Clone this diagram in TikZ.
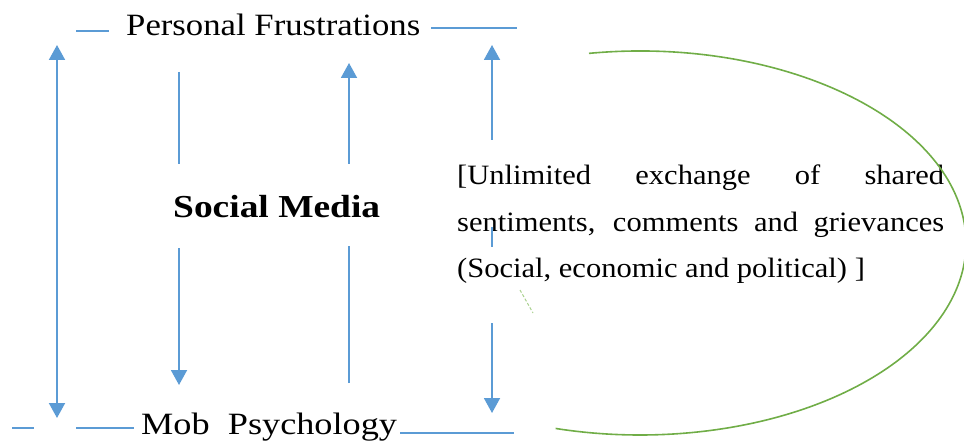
\documentclass[tikz,border=0pt]{standalone}
\usepackage{fontspec}
\setmainfont{Liberation Serif}
\newfontfamily\lblfont[FakeStretch=1.12]{Liberation Serif}
\newfontfamily\mobfont[FakeStretch=1.17]{Liberation Serif}
\newfontfamily\smfont[FakeStretch=1.17]{Liberation Serif}
\newfontfamily\parfont[FakeStretch=1.09]{Liberation Serif}
\usetikzlibrary{arrows.meta}
\definecolor{arrblue}{HTML}{5B9BD5}
\definecolor{ovgreen}{HTML}{70AD47}
\definecolor{faintgreen}{HTML}{A9D18E}
\begin{document}
\begin{tikzpicture}[x=1pt,y=-1pt,
  conn/.style={draw=arrblue, line width=1.9pt},
  arr/.style={conn, -{Triangle[width=16pt,length=15pt]}},
  darr/.style={conn, {Triangle[width=16pt,length=15pt]}-{Triangle[width=16pt,length=15pt]}},
  lab/.style={inner sep=0pt, anchor=base west, text=black, font=\lblfont\fontsize{31}{36}\selectfont},
  moblab/.style={lab, font=\mobfont\fontsize{31}{36}\selectfont},
  smlab/.style={inner sep=0pt, anchor=base west, text=black, font=\smfont\bfseries\fontsize{32}{36}\selectfont},
  parline/.style={inner sep=0pt, anchor=base west, text=black, font=\parfont\fontsize{28}{46}\selectfont},
  oval/.style={draw=ovgreen, line width=1.6pt}
]
\useasboundingbox (0,0) rectangle (964,441);

% texts
\node[lab] (pf) at (126,36) {Personal Frustrations};
\node[moblab] (mob) at (141,434) {Mob\ \ Psychology};
\node[smlab] (sm) at (173,217) {Social Media};
\node[parline] (l1) at (457,185) {\makebox[487pt][s]{[Unlimited exchange of shared}};
\node[parline] (l2) at (457,231) {\makebox[487pt][s]{sentiments, comments and grievances}};
\node[parline] (l3) at (457,277) {(Social, economic and political) ]};

% horizontal rules
\coordinate (t1a) at (76,31);  \coordinate (t1b) at (109,31);
\coordinate (t2a) at (431,28); \coordinate (t2b) at (517,28);
\coordinate (b1a) at (12,428); \coordinate (b1b) at (34,428);
\coordinate (b2a) at (76,428); \coordinate (b2b) at (134,428);
\coordinate (b3a) at (400,433); \coordinate (b3b) at (514,433);
\draw[conn, line width=1.2pt] (t1a) -- (t1b);
\draw[conn, line width=1.2pt] (t2a) -- (t2b);
\draw[conn, line width=1.2pt] (b1a) -- (b1b);
\draw[conn, line width=1.2pt] (b2a) -- (b2b);
\draw[conn, line width=1.2pt] (b3a) -- (b3b);

% left double arrow
\coordinate (la1) at (57,418); \coordinate (la2) at (57,45);
\draw[darr] (la1) -- (la2);

% down arrow (split by label)
\coordinate (da1) at (179,72);  \coordinate (da2) at (179,164);
\coordinate (da3) at (179,248); \coordinate (da4) at (179,385);
\draw[conn] (da1) -- (da2);
\draw[arr] (da3) -- (da4);

% up arrow (split by label)
\coordinate (ua1) at (349,383); \coordinate (ua2) at (349,246);
\coordinate (ua3) at (349,164); \coordinate (ua4) at (349,63);
\draw[conn] (ua1) -- (ua2);
\draw[arr] (ua3) -- (ua4);

% right arrows
\coordinate (ra1) at (492,140); \coordinate (ra2) at (492,45);
\coordinate (ra3) at (492,323); \coordinate (ra4) at (492,413);
\coordinate (ra5) at (492,227); \coordinate (ra6) at (492,247);
\draw[arr] (ra1) -- (ra2);
\draw[arr] (ra3) -- (ra4);
\draw[conn] (ra5) -- (ra6);

% green open oval
\coordinate (gc) at (640,243);
\draw[oval] ([shift={(-99:326 and 192)}]gc) arc[start angle=-99, end angle=105, x radius=326, y radius=192];
\coordinate (gm1) at (520,290); \coordinate (gm2) at (533,313);
\draw[draw=faintgreen, line width=1pt, dash pattern=on 3pt off 2pt] (gm1) -- (gm2);
\end{tikzpicture}
\end{document}
